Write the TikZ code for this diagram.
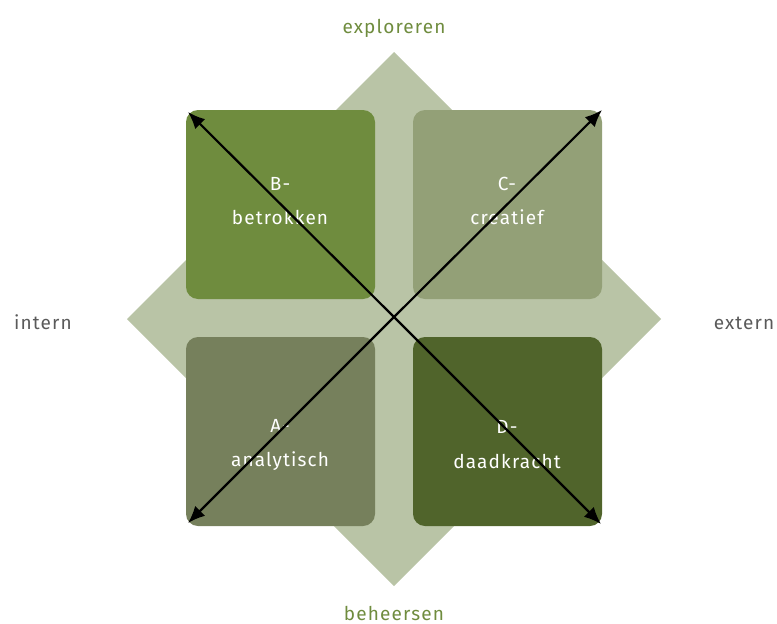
\documentclass[tikz,border=0pt]{standalone}
\usepackage{fontspec}
\setmainfont{Fira Sans}
\usetikzlibrary{arrows.meta}
\definecolor{diam}{HTML}{B9C4A6}
\definecolor{boxB}{HTML}{6F8C3E}
\definecolor{boxC}{HTML}{93A077}
\definecolor{boxA}{HTML}{76805C}
\definecolor{boxD}{HTML}{50642B}
\definecolor{axisgreen}{HTML}{6F8C3E}
\definecolor{axisgray}{HTML}{5A5A5A}
\begin{document}
\begin{tikzpicture}[x=1pt,y=-1pt,
  quad/.style={rounded corners=12pt},
  boxtext/.style={text=white,font=\fontsize{19}{19}\selectfont\addfontfeatures{LetterSpace=6},align=center},
  axislbl/.style={inner sep=0pt,anchor=base,font=\fontsize{19}{19}\selectfont\addfontfeatures{LetterSpace=6}},
  axisarrow/.style={line width=2.2pt,-{Latex[length=17pt,width=14pt]}}]
\useasboundingbox (0,0) rectangle (777,624);
% central diamond
\fill[diam] (394,52) -- (661,319) -- (394,586) -- (127,319) -- cycle;
% four quadrants
\fill[boxB,quad] (186,110) rectangle (375,299);
\fill[boxC,quad] (413,110) rectangle (602,299);
\fill[boxA,quad] (186,337) rectangle (375,526);
\fill[boxD,quad] (413,337) rectangle (602,526);
% quadrant labels
\node[boxtext] (tB1) at (280,184) {B-};
\node[boxtext] (tB2) at (280,217) {betrokken};
\node[boxtext] (tC1) at (507,184) {C-};
\node[boxtext] (tC2) at (507,217) {creatief};
\node[boxtext] (tA1) at (280,426) {A-};
\node[boxtext] (tA2) at (280,461) {analytisch};
\node[boxtext] (tD1) at (507,427) {D-};
\node[boxtext] (tD2) at (507,461) {daadkracht};
% axes
\coordinate (O) at (394,317);
\coordinate (NW) at (188,112);
\coordinate (NE) at (602,110);
\coordinate (SW) at (188,523);
\coordinate (SE) at (601,524);
\draw[axisarrow] (O) -- (NW);
\draw[axisarrow] (O) -- (NE);
\draw[axisarrow] (O) -- (SW);
\draw[axisarrow] (O) -- (SE);
% axis labels
\node[axislbl,text=axisgreen] (top) at (394,33) {exploreren};
\node[axislbl,text=axisgreen] (bottom) at (394,620) {beheersen};
\node[axislbl,text=axisgray] (left) at (43,329) {intern};
\node[axislbl,text=axisgray] (right) at (744,329) {extern};
\end{tikzpicture}
\end{document}
